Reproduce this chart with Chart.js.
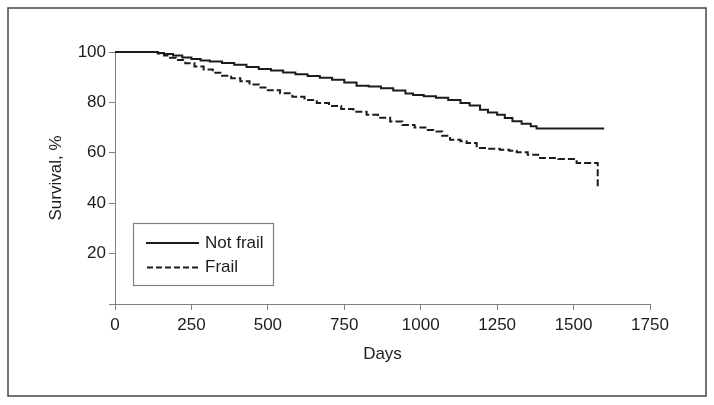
<!DOCTYPE html>
<html>
<head>
<meta charset="utf-8">
<script src="https://cdn.jsdelivr.net/npm/chart.js@4.4.1/dist/chart.umd.min.js"></script>
<style>
  html, body { margin: 0; padding: 0; background: #fff; }
  #wrap { width: 714px; height: 405px; }
</style>
</head>
<body>
<div id="wrap"><canvas id="kmChart" width="714" height="405"></canvas></div>
<script>
// survival curves (days, percent surviving)
const notFrailDays = [0, 120, 140, 160, 190, 220, 250, 280, 310, 350, 390, 430, 470, 510, 550, 590, 630, 670, 710, 750, 790, 830, 870, 910, 950, 975, 1010, 1050, 1090, 1130, 1160, 1194, 1220, 1250, 1275, 1300, 1330, 1360, 1379, 1600];
const notFrailSurv = [100, 100, 99.6, 99.2, 98.6, 97.8, 97.2, 96.6, 96.2, 95.6, 94.9, 94.0, 93.3, 92.7, 91.9, 91.2, 90.5, 89.8, 89.0, 87.9, 86.6, 86.3, 85.6, 84.7, 83.5, 82.9, 82.4, 81.8, 81.0, 79.8, 78.8, 77.1, 76.0, 75.1, 73.8, 72.5, 71.5, 70.5, 69.6, 69.6];

const frailDays = [0, 124, 140, 160, 180, 200, 230, 260, 290, 320, 350, 380, 410, 440, 470, 500, 540, 580, 620, 660, 700, 740, 780, 823, 860, 900, 940, 980, 1020, 1041, 1070, 1096, 1130, 1150, 1183, 1220, 1259, 1290, 1314, 1350, 1390, 1450, 1510, 1579];
const frailSurv = [100, 100, 99.4, 98.6, 97.7, 96.8, 95.5, 94.2, 93.1, 91.8, 90.6, 89.6, 88.4, 87.1, 85.9, 84.8, 83.6, 82.2, 81.0, 79.8, 78.6, 77.4, 76.3, 75.1, 73.9, 72.4, 71.0, 70.0, 69.0, 68.5, 66.8, 65.2, 64.6, 63.9, 61.9, 61.6, 61.2, 60.8, 60.2, 59.2, 57.9, 57.5, 56.0, 46.7];

const seriesLabels = ['Not frail', 'Frail'];
const xTicks = [0, 250, 500, 750, 1000, 1250, 1500, 1750];
const yTicks = [20, 40, 60, 80, 100];

const FONT = '"Liberation Sans", Arial, sans-serif';
const FSIZE = 17;
const INK = '#1c1c1c';
const AXIS = '#808080';
const DASH = [6, 3];

function toPoints(xs, ys) {
    return xs.map((x, i) => ({ x: x, y: ys[i] }));
}

// outer frame plus the boxed legend sitting inside the plot
const framePlugin = {
    id: 'frame',
    afterDraw(chart) {
        const ctx = chart.ctx;
        ctx.save();
        ctx.strokeStyle = '#444';
        ctx.lineWidth = 1.5;
        ctx.strokeRect(8, 8, 698, 388);

        // legend box
        ctx.strokeStyle = AXIS;
        ctx.lineWidth = 1.2;
        ctx.strokeRect(133.5, 223.5, 140, 62);

        ctx.strokeStyle = INK;
        ctx.lineWidth = 1.8;
        ctx.beginPath();
        ctx.moveTo(146, 243);
        ctx.lineTo(199, 243);
        ctx.stroke();
        ctx.setLineDash(DASH);
        ctx.beginPath();
        ctx.moveTo(147, 267.5);
        ctx.lineTo(199, 267.5);
        ctx.stroke();
        ctx.setLineDash([]);

        ctx.fillStyle = INK;
        ctx.font = FSIZE + 'px ' + FONT;
        ctx.textBaseline = 'middle';
        ctx.fillText(seriesLabels[0], 205, 243);
        ctx.fillText(seriesLabels[1], 205, 267);
        ctx.restore();
    }
};

const config = {
    type: 'line',
    data: {
        datasets: [{
            label: seriesLabels[0],
            data: toPoints(notFrailDays, notFrailSurv),
            borderColor: INK,
            borderWidth: 2,
            stepped: true,
            pointRadius: 0,
            fill: false,
            clip: 4
        }, {
            label: seriesLabels[1],
            data: toPoints(frailDays, frailSurv),
            borderColor: INK,
            borderWidth: 2,
            borderDash: [7, 3],
            stepped: true,
            pointRadius: 0,
            fill: false,
            clip: 4
        }]
    },
    options: {
        responsive: false,
        animation: false,
        layout: { padding: { left: 0, right: 64, top: 52, bottom: 0 } },
        plugins: {
            legend: { display: false },
            tooltip: { enabled: false }
        },
        scales: {
            x: {
                type: 'linear',
                min: 0,
                max: 1750,
                afterBuildTicks(scale) { scale.ticks = xTicks.map(v => ({ value: v })); },
                afterFit(scale) { scale.height = 101; },
                ticks: {
                    color: INK, font: { size: FSIZE, family: FONT }, padding: 5, maxRotation: 0,
                    callback: v => String(v)
                },
                grid: { drawOnChartArea: false, drawTicks: true, tickLength: 6, color: AXIS },
                border: { color: AXIS, width: 1 },
                title: {
                    display: true, text: 'Days', color: INK,
                    font: { size: FSIZE, family: FONT },
                    padding: { top: 0, bottom: 40 }
                }
            },
            y: {
                type: 'linear',
                min: 0,
                max: 100,
                afterBuildTicks(scale) { scale.ticks = [0].concat(yTicks).map(v => ({ value: v })); },
                afterFit(scale) { scale.width = 115; },
                ticks: {
                    color: INK, font: { size: FSIZE, family: FONT }, padding: 3,
                    callback: v => (v === 0 ? '' : String(v))
                },
                grid: { drawOnChartArea: false, drawTicks: true, tickLength: 6, color: AXIS },
                border: { color: AXIS, width: 1 },
                title: {
                    display: true, text: 'Survival, %', color: INK,
                    font: { size: FSIZE, family: FONT },
                    padding: { top: 46, bottom: 0 }
                }
            }
        }
    },
    plugins: [framePlugin]
};

new Chart(document.getElementById('kmChart'), config);
</script>
</body>
</html>
